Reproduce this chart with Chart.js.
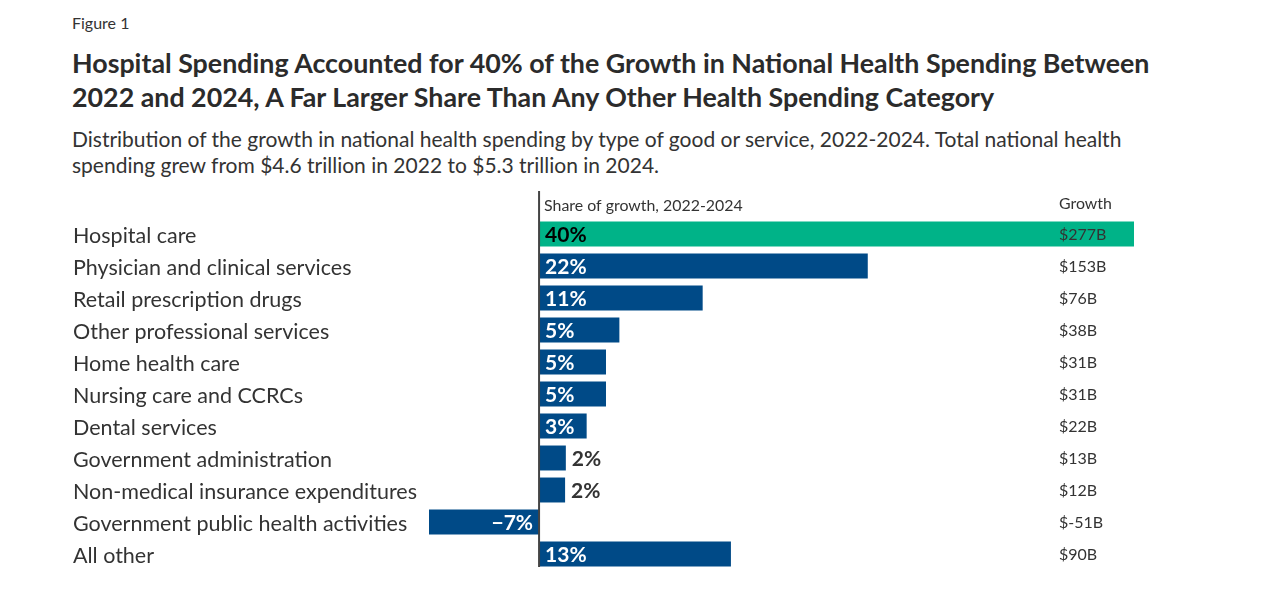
<!DOCTYPE html>
<html lang="en-US">
<head>
  <meta charset="utf-8">
  <title>Figure 1</title>
  <script src="https://cdn.jsdelivr.net/npm/chart.js@4.4.1/dist/chart.umd.min.js"></script>
  <style>
  body { margin: 0; background: #fff; font-family: Lato, sans-serif; color: #333; }
  .fig { position: absolute; left: 72px; top: 13px; font-size: 16px; line-height: 20px; }
  .title { position: absolute; left: 72px; top: 46px; font-size: 26.8px; line-height: 34px; font-weight: bold; color: #2b2b2b; }
  .sub { position: absolute; left: 72px; top: 126px; font-size: 21px; line-height: 26px; }
  #wrap { position: absolute; left: 0; top: 0; width: 1265px; height: 604px; }
  </style>
</head>
<body>
<div class="fig">Figure 1</div>
<div class="title">Hospital Spending Accounted for 40% of the Growth in National Health Spending Between<br>2022 and 2024, A Far Larger Share Than Any Other Health Spending Category</div>
<div class="sub">Distribution of the growth in national health spending by type of good or service, 2022-2024. Total national health<br>spending grew from $4.6 trillion in 2022 to $5.3 trillion in 2024.</div>
<div id="wrap"><canvas id="chart"></canvas></div>
<script>
// share of growth (%)
var categories = ['Hospital care', 'Physician and clinical services', 'Retail prescription drugs',
  'Other professional services', 'Home health care', 'Nursing care and CCRCs', 'Dental services',
  'Government administration', 'Non-medical insurance expenditures', 'Government public health activities', 'All other'];
var shares = [40.0, 22.1, 11.0, 5.4, 4.5, 4.5, 3.2, 1.8, 1.75, -7.4, 12.9];
var shareLabels = ['40%', '22%', '11%', '5%', '5%', '5%', '3%', '2%', '2%', '\u22127%', '13%'];
var growthLabels = ['$277B', '$153B', '$76B', '$38B', '$31B', '$31B', '$22B', '$13B', '$12B', '$-51B', '$90B'];

var GREEN = '#00b388';
var BLUE = '#004a87';
var barColors = categories.map(function(c, i) { return i === 0 ? GREEN : BLUE; });

var labelPlugin = {
  id: 'labels',
  afterDatasetsDraw: function(chart) {
    var ctx = chart.ctx;
    var xs = chart.scales.x;
    var area = chart.chartArea;
    var zero = xs.getPixelForValue(0);
    var meta = chart.getDatasetMeta(0);
    var growthX = area.right - 75;
    ctx.save();
    // zero line
    ctx.strokeStyle = '#444';
    ctx.lineWidth = 2;
    ctx.beginPath();
    ctx.moveTo(zero, 191);
    ctx.lineTo(zero, 567);
    ctx.stroke();
    // column headers
    ctx.fillStyle = '#333';
    ctx.font = '15.9px Lato';
    ctx.textBaseline = 'middle';
    ctx.textAlign = 'left';
    ctx.fillText('Share of growth, 2022-2024', zero + 5, 206);
    ctx.fillText('Growth', growthX, 204);
    meta.data.forEach(function(bar, i) {
      var v = shares[i];
      var w = Math.abs(bar.x - zero);
      ctx.font = 'bold 21px Lato';
      if (w > 45) {
        ctx.fillStyle = i === 0 ? '#000' : '#fff';
        if (v >= 0) {
          ctx.textAlign = 'left';
          ctx.fillText(shareLabels[i], zero + 6, bar.y + 1);
        } else {
          ctx.textAlign = 'right';
          ctx.fillText(shareLabels[i], zero - 6, bar.y + 1);
        }
      } else {
        ctx.fillStyle = '#333';
        ctx.textAlign = 'left';
        ctx.fillText(shareLabels[i], bar.x + 6, bar.y + 1);
      }
      ctx.font = '16px Lato';
      ctx.fillStyle = '#333';
      ctx.textAlign = 'left';
      ctx.fillText(growthLabels[i], growthX, bar.y + 1);
    });
    ctx.restore();
  }
};

new Chart(document.getElementById('chart'), {
  type: 'bar',
  data: {
    labels: categories,
    datasets: [{
      data: shares,
      backgroundColor: barColors,
      borderWidth: 0,
      categoryPercentage: 1,
      barPercentage: 0.78
    }]
  },
  options: {
    indexAxis: 'y',
    responsive: true,
    maintainAspectRatio: false,
    animation: false,
    layout: { padding: { left: 73, right: 131, top: 218, bottom: 34 } },
    plugins: { legend: { display: false }, tooltip: { enabled: false } },
    scales: {
      x: { display: false, min: -7.4, max: 40 },
      y: {
        grid: { display: false },
        border: { display: false },
        afterFit: function(s) { s.width = 356; },
        ticks: {
          crossAlign: 'far',
          labelOffset: 2,
          color: '#333',
          font: { family: 'Lato', size: 21.5 }
        }
      }
    }
  },
  plugins: [labelPlugin]
});
</script>
</body>
</html>
